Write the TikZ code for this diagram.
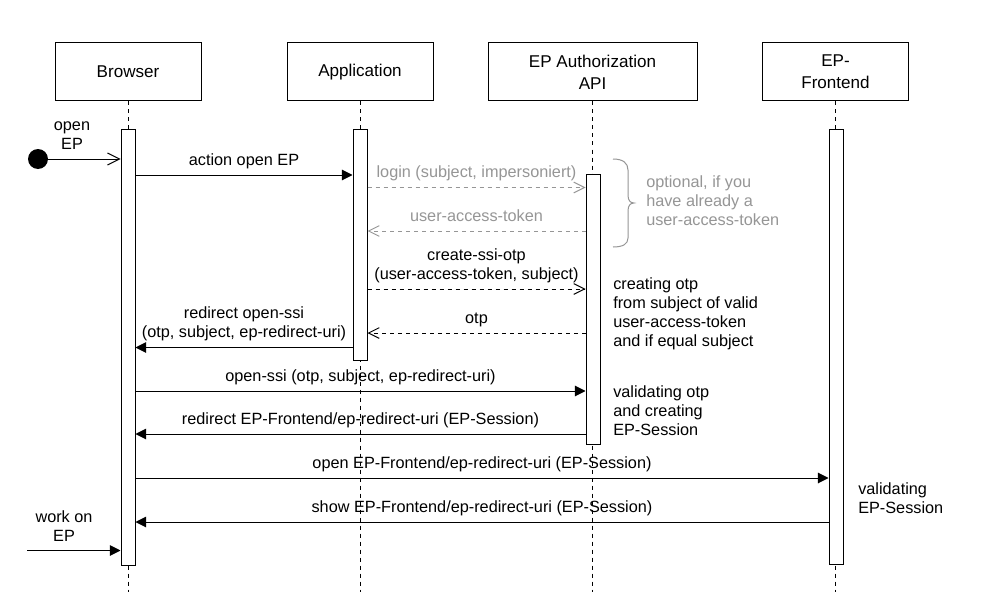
\documentclass[tikz,border=0pt]{standalone}
\usepackage{fontspec}
\setmainfont{Liberation Sans}
\usetikzlibrary{arrows.meta}
\definecolor{optgray}{RGB}{150,150,150}
\newcommand\lblfont{\fontsize{12.2}{14.25}\selectfont}
\newcommand\hdrfont{\fontsize{12.8}{16.5}\selectfont}
\tikzset{
 hbox/.style={draw, line width=0.75pt, fill=white, minimum width=109.5pt, minimum height=43.5pt, inner sep=0pt, align=center, font=\hdrfont},
 actbox/.style={draw, line width=0.75pt, fill=white, minimum width=10.5pt, inner sep=0pt},
 lifeline/.style={line width=0.75pt, dash pattern=on 3pt off 3pt},
 sync/.style={line width=0.75pt, -{Triangle[length=8pt,width=8pt]}},
 asyncd/.style={line width=0.75pt, dash pattern=on 3pt off 3pt, -{Straight Barb[length=8pt,width=8pt]}},
 opensolid/.style={line width=0.75pt, -{Straight Barb[length=9pt,width=9pt]}},
 lbl/.style={font=\lblfont, align=center, inner sep=0pt, above=2.6pt},
 note/.style={font=\lblfont, align=left, inner sep=0pt, anchor=north west},
}
\begin{document}
\begin{tikzpicture}[x=0.75pt,y=-0.75pt]
\useasboundingbox[fill=white] (0,0) rectangle (986,610);
% headers
\node[hbox] (hB) at (128,72) {Browser};
\node[hbox] (hA) at (360,72) {Application};
\node[hbox, minimum width=156.75pt] (hE) at (592.5,72) {EP Authorization\\API};
\node[hbox] (hF) at (835.5,72) {EP-\\Frontend};
\coordinate (bot) at (0,592);
% lifelines
\draw[lifeline] (hB.south) -- (hB.south |- bot);
\draw[lifeline] (hA.south) -- (hA.south |- bot);
\draw[lifeline] (hE.south) -- (hE.south |- bot);
\draw[lifeline] (hF.south) -- (hF.south |- bot);
% activations
\node[actbox, minimum height=326.25pt] (aB) at (128,347.5) {};
\node[actbox, minimum height=172.5pt] (aA) at (360,245) {};
\node[actbox, minimum height=202.5pt] (aE) at (593,309) {};
\node[actbox, minimum height=325.5pt] (aF) at (836,347) {};
% levels
\coordinate (y0) at (0,159);
\coordinate (y1) at (0,175);
\coordinate (y2) at (0,187.5);
\coordinate (y3) at (0,231);
\coordinate (y4) at (0,289);
\coordinate (y5) at (0,333);
\coordinate (y6) at (0,347.5);
\coordinate (y7) at (0,391);
\coordinate (y8) at (0,434);
\coordinate (y9) at (0,478);
\coordinate (y10) at (0,522);
\coordinate (y11) at (0,550.5);
% start
\node[circle, fill=black, minimum size=15pt, inner sep=0pt] (start) at (38,159) {};
\draw[opensolid] (start) -- (aB.west |- y0);
\node[lbl] (lopen) at (72,159) {open\\EP\strut};
% messages
\draw[sync] (aB.east |- y1) -- (aA.west |- y1) node[midway, lbl] {action open EP\strut};
\draw[asyncd, optgray] (aA.east |- y2) -- (aE.west |- y2) node[midway, lbl, text=optgray] {login (subject, impersoniert)\strut};
\draw[asyncd, optgray] (aE.west |- y3) -- (aA.east |- y3) node[midway, lbl, text=optgray] {user-access-token\strut};
\draw[asyncd] (aA.east |- y4) -- (aE.west |- y4) node[midway, lbl] {create-ssi-otp\\(user-access-token, subject)\strut};
\draw[asyncd] (aE.west |- y5) -- (aA.east |- y5) node[midway, lbl] {otp\strut};
\draw[sync] (aA.west |- y6) -- (aB.east |- y6) node[midway, lbl] {redirect open-ssi\\(otp, subject, ep-redirect-uri)\strut};
\draw[sync] (aB.east |- y7) -- (aE.west |- y7) node[midway, lbl] {open-ssi (otp, subject, ep-redirect-uri)\strut};
\draw[sync] (aE.west |- y8) -- (aB.east |- y8) node[midway, lbl] {redirect EP-Frontend/ep-redirect-uri (EP-Session)\strut};
\draw[sync] (aB.east |- y9) -- (aF.west |- y9) node[midway, lbl] {open EP-Frontend/ep-redirect-uri (EP-Session)\strut};
\draw[sync] (aF.west |- y10) -- (aB.east |- y10) node[midway, lbl] {show EP-Frontend/ep-redirect-uri (EP-Session)\strut};
\coordinate (wstart) at (27,550.5);
\draw[sync] (wstart) -- (aB.west |- y11);
\node[lbl] (lwork) at (64,550.5) {work on\\EP\strut};
% brace
\draw[optgray, line width=0.75pt] (613,159) .. controls (623,159) and (628,163) .. (628,170) -- (628,195) .. controls (628,200) and (630,203) .. (634,203) .. controls (630,203) and (628,206) .. (628,211) -- (628,238) .. controls (628,244) and (623,247) .. (613,247);
% notes
\node[note, text=optgray] (nopt) at (646,173.7) {\strut optional, if you\\have already a\\user-access-token};
\node[note] (ncreate) at (613,275.5) {\strut creating otp\\from subject of valid\\user-access-token\\and if equal subject};
\node[note] (nvalid) at (613,384) {\strut validating otp\\and creating\\EP-Session};
\node[note] (nvalf) at (858,480.7) {\strut validating\\EP-Session};
\end{tikzpicture}
\end{document}
